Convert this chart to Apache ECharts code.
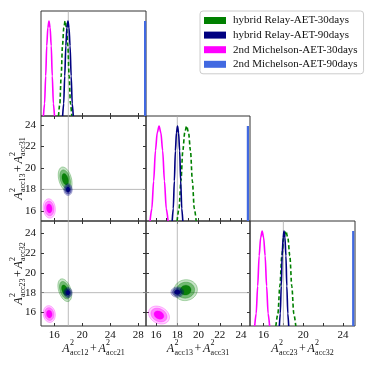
<!DOCTYPE html>
<html>
<head>
<meta charset="utf-8">
<script src="https://cdn.jsdelivr.net/npm/echarts@6/dist/echarts.min.js"></script>
<style>html,body{margin:0;padding:0;background:#fff}#c{width:366px;height:366px}</style>
</head>
<body>
<div id="c"></div>
<script>
// ---------------- data ----------------
const seriesNames = ['hybrid Relay-AET-30days', 'hybrid Relay-AET-90days', '2nd Michelson-AET-30days', '2nd Michelson-AET-90days'];
const paramSubs = [['acc12', 'acc21'], ['acc13', 'acc31'], ['acc23', 'acc32']];
const truthValues = [18, 18, 18];
const axisMin = [14.1, 15.05, 14.65];
const axisMax = [29.1, 24.85, 25.2];
const tickLabels = [[16, 20, 24, 28], [16, 18, 20, 22, 24], [16, 20, 24]];
const ticks2D = [[16, 20, 24, 28], [16, 18, 20, 22, 24], [16, 18, 20, 22, 24]];
const ticksDiag = [[16, 20, 24, 28], [15, 16, 17, 18, 19, 20, 21, 22, 23, 24], [16, 18, 20, 22, 24]];
const rowTicks = [16, 18, 20, 22, 24];

// normalised 1D posterior heights read along each peak
const peakShape = [0, 0.13, 0.42, 0.74, 0.93, 1, 0.93, 0.74, 0.42, 0.13, 0];
// x positions of those heights, per parameter and series
const p1Green = [16.60, 16.79, 16.98, 17.17, 17.36, 17.55, 17.74, 17.93, 18.12, 18.31, 18.50];
const p1Navy = [17.19, 17.34, 17.49, 17.65, 17.80, 17.95, 18.10, 18.25, 18.41, 18.56, 18.71];
const p1Magenta = [14.45, 14.61, 14.77, 14.92, 15.08, 15.24, 15.40, 15.56, 15.71, 15.87, 16.03];
const p1Blue = 28.97;
const p2Green = [17.98, 18.16, 18.34, 18.52, 18.70, 18.88, 19.06, 19.24, 19.42, 19.60, 19.78];
const p2Navy = [17.52, 17.62, 17.72, 17.82, 17.92, 18.02, 18.12, 18.22, 18.32, 18.42, 18.52];
const p2Magenta = [15.43, 15.60, 15.77, 15.94, 16.11, 16.28, 16.45, 16.62, 16.79, 16.96, 17.13];
const p2Blue = 24.65;
const p3Green = [17.25, 17.45, 17.65, 17.85, 18.05, 18.25, 18.45, 18.65, 18.85, 19.05, 19.25];
const p3Navy = [17.60, 17.69, 17.79, 17.88, 17.98, 18.07, 18.16, 18.26, 18.35, 18.45, 18.54];
const p3Magenta = [15.12, 15.27, 15.42, 15.57, 15.72, 15.87, 16.02, 16.17, 16.32, 16.47, 16.62];
const p3Blue = 25.02;

// 2D posteriors: [centerX, centerY, sigmaX, sigmaY, correlation]
const pair12Green = [17.55, 18.95, 0.33, 0.38, -0.35];
const pair12Navy = [17.96, 17.98, 0.20, 0.18, 0.0];
const pair12Magenta = [15.28, 16.22, 0.29, 0.30, -0.1];
const pair13Green = [17.50, 18.25, 0.33, 0.38, -0.4];
const pair13Navy = [17.95, 18.00, 0.20, 0.17, 0.0];
const pair13Magenta = [15.28, 15.85, 0.29, 0.28, -0.1];
const pair23Green = [18.78, 18.25, 0.37, 0.35, 0.05];
const pair23Navy = [18.00, 18.05, 0.20, 0.17, 0.0];
const pair23Magenta = [16.27, 15.75, 0.33, 0.30, -0.25];
const contourLevels = [3.0, 2.3, 1.4];

// ---------------- styles / layout ----------------
const colors = ['#008000', '#000080', '#ff00ff', '#4169e1'];
const fills = [
  ['rgba(0,128,0,0.22)', 'rgba(0,128,0,0.42)', '#0b800b'],
  ['rgba(0,0,128,0.22)', 'rgba(0,0,128,0.42)', '#00007a'],
  ['rgba(255,0,255,0.18)', 'rgba(255,0,255,0.38)', '#ff00ff']
];
const strokes = ['rgba(0,128,0,0.5)', 'rgba(0,0,128,0.5)', 'rgba(255,0,255,0.5)'];
const colLeft = [41, 146, 250], colWidth = [105, 104, 105];
const rowTop = [11, 116, 221], rowHeight = 105;
const serif = '"Liberation Serif", "DejaVu Serif", serif';
const diagMax = 1.105;

const oneD = [
  [p1Green, p1Navy, p1Magenta, p1Blue],
  [p2Green, p2Navy, p2Magenta, p2Blue],
  [p3Green, p3Navy, p3Magenta, p3Blue]
];
const twoD = {
  '1,0': [pair12Green, pair12Navy, pair12Magenta],
  '2,0': [pair13Green, pair13Navy, pair13Magenta],
  '2,1': [pair23Green, pair23Navy, pair23Magenta]
};

const grids = [], xAxes = [], yAxes = [], series = [];
const tickStyle = { show: true, inside: true, length: 3, lineStyle: { color: '#333', width: 1 } };
const labelStyle = { fontFamily: serif, fontSize: 11, color: '#111' };

for (let r = 0; r < 3; r++) {
  for (let c = 0; c <= r; c++) {
    const gi = grids.length;
    grids.push({ left: colLeft[c], top: rowTop[r], width: colWidth[c], height: rowHeight,
      show: true, borderColor: '#333', borderWidth: 1, backgroundColor: 'transparent', outerBoundsMode: 'none' });
    const diag = r === c;
    const xi = xAxes.length;
    xAxes.push({ gridIndex: gi, type: 'value', min: axisMin[c], max: axisMax[c], position: 'bottom',
      axisLine: { show: false }, splitLine: { show: false },
      axisTick: Object.assign({}, tickStyle, { customValues: diag ? ticksDiag[c] : ticks2D[c] }),
      axisLabel: Object.assign({ show: r === 2, margin: 4, customValues: tickLabels[c] }, labelStyle) });
    const yi = yAxes.length;
    if (diag) {
      yAxes.push({ gridIndex: gi, type: 'value', min: 0, max: diagMax, axisLine: { show: false },
        axisTick: { show: false }, axisLabel: { show: false }, splitLine: { show: false } });
    } else {
      yAxes.push({ gridIndex: gi, type: 'value', min: axisMin[r], max: axisMax[r], position: 'left',
        axisLine: { show: false }, splitLine: { show: false },
        axisTick: Object.assign({}, tickStyle, { customValues: rowTicks }),
        axisLabel: Object.assign({ show: c === 0, margin: 5, customValues: rowTicks }, labelStyle) });
      // mirrored ticks
      xAxes.push({ gridIndex: gi, type: 'value', min: axisMin[c], max: axisMax[c], position: 'top',
        axisLine: { show: false }, splitLine: { show: false },
        axisTick: Object.assign({}, tickStyle, { customValues: ticks2D[c] }), axisLabel: { show: false } });
      yAxes.push({ gridIndex: gi, type: 'value', min: axisMin[r], max: axisMax[r], position: 'right',
        axisLine: { show: false }, splitLine: { show: false },
        axisTick: Object.assign({}, tickStyle, { customValues: rowTicks }), axisLabel: { show: false } });
    }
    // reference (truth) lines
    const yLo = diag ? 0 : axisMin[r], yHi = diag ? diagMax : axisMax[r];
    series.push({ type: 'line', xAxisIndex: xi, yAxisIndex: yi, silent: true, symbol: 'none', z: 1,
      lineStyle: { color: '#aaa', width: 0.8 }, data: [[truthValues[c], yLo], [truthValues[c], yHi]] });
    if (!diag) {
      series.push({ type: 'line', xAxisIndex: xi, yAxisIndex: yi, silent: true, symbol: 'none', z: 1,
        lineStyle: { color: '#aaa', width: 0.8 }, data: [[axisMin[c], truthValues[r]], [axisMax[c], truthValues[r]]] });
    }
    if (diag) {
      const curves = oneD[c];
      for (let s = 0; s < 3; s++) {
        series.push({ name: seriesNames[s], type: 'line', xAxisIndex: xi, yAxisIndex: yi, symbol: 'none',
          smooth: 0.3, smoothMonotone: 'x', z: 3 + s, color: colors[s],
          lineStyle: { color: colors[s], width: 1.6, type: s === 0 ? [4, 2.5] : 'solid' },
          data: curves[s].map((x, k) => [x, peakShape[k]]) });
      }
      series.push({ name: seriesNames[3], type: 'line', xAxisIndex: xi, yAxisIndex: yi, symbol: 'none', z: 6,
        color: colors[3], lineStyle: { color: colors[3], width: 2.2 },
        data: [[curves[3], 0], [curves[3], 1]] });
    } else {
      const blobs = twoD[r + ',' + c];
      for (let s = 0; s < 3; s++) {
        const b = blobs[s];
        series.push({ name: seriesNames[s], type: 'custom', xAxisIndex: xi, yAxisIndex: yi, z: 3 + s,
          color: colors[s], clip: true, silent: true,
          data: contourLevels.map(k => [b[0], b[1], k]),
          encode: { x: 0, y: 1 },
          renderItem: function (params, api) {
            const k = contourLevels[params.dataIndex];
            const rho = b[4], q = Math.sqrt(1 - rho * rho);
            const pts = [];
            for (let i = 0; i < 72; i++) {
              const t = i / 72 * Math.PI * 2;
              const dx = b[2] * k * Math.cos(t);
              const dy = b[3] * k * (rho * Math.cos(t) + q * Math.sin(t));
              pts.push(api.coord([b[0] + dx, b[1] + dy]));
            }
            return { type: 'polygon', shape: { points: pts },
              style: { fill: fills[s][params.dataIndex], stroke: strokes[s], lineWidth: 0.6 } };
          } });
      }
    }
  }
}

// ---------------- axis titles (stacked super/subscripts) ----------------
const mctx = document.createElement('canvas').getContext('2d');
function tw(text, font) { mctx.font = font; return mctx.measureText(text).width; }
const fMain = 'italic 12px "Liberation Serif"', fPlain = '12px "Liberation Serif"', fScript = '8px "Liberation Serif"';
function buildTitle(subs, cx, cy, vertical) {
  const kids = [];
  let x = 0;
  function term(sub) {
    kids.push({ type: 'text', x: x, y: 0, style: { text: 'A', font: fMain, fill: '#111', align: 'left', verticalAlign: 'middle' } });
    x += tw('A', fMain) + 0.4;
    kids.push({ type: 'text', x: x, y: -5.6, style: { text: '2', font: fScript, fill: '#111', align: 'left', verticalAlign: 'middle' } });
    kids.push({ type: 'text', x: x, y: 4.4, style: { text: sub, font: fScript, fill: '#111', align: 'left', verticalAlign: 'middle' } });
    x += Math.max(tw('2', fScript), tw(sub, fScript));
  }
  term(subs[0]);
  x += 1.5;
  kids.push({ type: 'text', x: x, y: 0, style: { text: '+', font: fPlain, fill: '#111', align: 'left', verticalAlign: 'middle' } });
  x += tw('+', fPlain) + 1.5;
  term(subs[1]);
  const half = x / 2;
  kids.forEach(k => { k.x -= half; });
  return { type: 'group', x: cx, y: cy, rotation: vertical ? Math.PI / 2 : 0, children: kids, silent: true };
}
const graphics = [];
for (let c = 0; c < 3; c++) graphics.push(buildTitle(paramSubs[c], colLeft[c] + colWidth[c] / 2, 348.5, false));
for (let r = 1; r < 3; r++) graphics.push(buildTitle(paramSubs[r], 18.5, rowTop[r] + rowHeight / 2, true));

const chart = echarts.init(document.getElementById('c'), null, { renderer: 'canvas' });
chart.setOption({
  animation: false,
  backgroundColor: '#fff',
  grid: grids,
  xAxis: xAxes,
  yAxis: yAxes,
  legend: {
    orient: 'vertical', left: 200, top: 11, padding: [4, 6, 4, 4],
    itemWidth: 22, itemHeight: 7, itemGap: 3.6,
    backgroundColor: '#fff', borderColor: '#ccc', borderWidth: 1, borderRadius: 3,
    textStyle: { fontFamily: serif, fontSize: 11, color: '#111', lineHeight: 11, padding: [0, 0, 0, 2] },
    data: seriesNames.map((n, i) => ({ name: n, icon: 'rect', itemStyle: { color: colors[i], borderWidth: 0 } }))
  },
  graphic: graphics,
  series: series
});
</script>
</body>
</html>
